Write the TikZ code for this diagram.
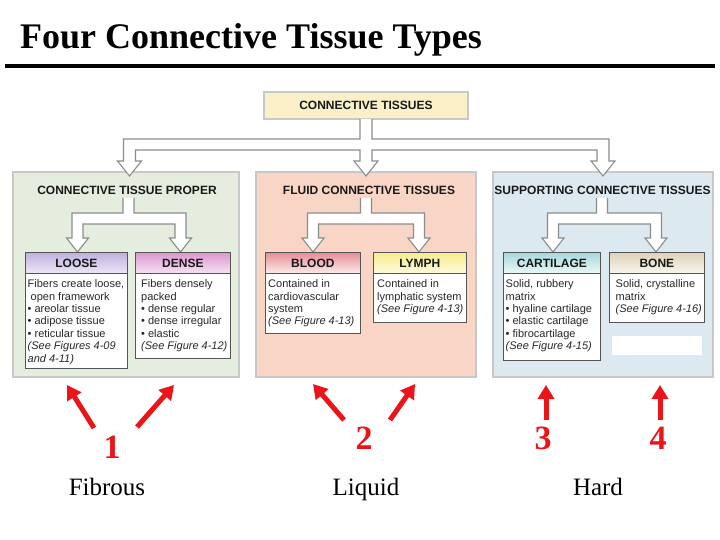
\documentclass[tikz,border=0pt]{standalone}
\usepackage{fontspec}
\setmainfont{Liberation Serif}
\newfontfamily\diasans{Liberation Sans}
\usetikzlibrary{arrows.meta}
\definecolor{greenp}{RGB}{228,237,222}
\definecolor{pinkp}{RGB}{249,213,197}
\definecolor{bluep}{RGB}{220,233,240}
\definecolor{topy}{RGB}{251,240,200}
\definecolor{panelgray}{RGB}{200,200,200}
\definecolor{boxgray}{RGB}{85,85,85}
\definecolor{arrowgray}{RGB}{140,140,140}
\definecolor{bodytext}{RGB}{40,40,40}
\definecolor{myred}{RGB}{235,20,25}
\definecolor{looseT}{RGB}{190,176,222}
\definecolor{looseB}{RGB}{236,231,246}
\definecolor{denseT}{RGB}{220,150,208}
\definecolor{denseB}{RGB}{246,226,242}
\definecolor{bloodT}{RGB}{230,140,148}
\definecolor{bloodB}{RGB}{252,236,236}
\definecolor{lymphT}{RGB}{246,236,140}
\definecolor{lymphB}{RGB}{253,250,222}
\definecolor{cartT}{RGB}{165,216,222}
\definecolor{cartB}{RGB}{236,248,248}
\definecolor{boneT}{RGB}{222,210,184}
\definecolor{boneB}{RGB}{249,246,238}
\newcommand\subfork[3]{%
  \draw[hollow] ({#1-5.5},198) -- ({#1-5.5},213) -- ({#2-5.5},213) -- ({#2-5.5},238)
    -- ({#2-11},238) -- (#2,252) -- ({#2+11},238) -- ({#2+5.5},238) -- ({#2+5.5},224)
    -- ({#3-5.5},224) -- ({#3-5.5},238) -- ({#3-11},238) -- (#3,252) -- ({#3+11},238)
    -- ({#3+5.5},238) -- ({#3+5.5},213) -- ({#1+5.5},213) -- ({#1+5.5},198);}
\begin{document}
\begin{tikzpicture}[x=1pt,y=-1pt,
  panel/.style={draw=panelgray, line width=1.2pt, anchor=north west, inner sep=0pt, outer sep=0pt},
  ptitle/.style={font=\diasans\bfseries\fontsize{12}{14}\selectfont, text=black!90, inner sep=1pt},
  subbox/.style={draw=boxgray, line width=0.8pt, fill=white, anchor=north west, inner sep=0pt},
  subhead/.style={draw=boxgray, line width=0.8pt, anchor=north, minimum height=21pt, inner sep=0pt,
    font=\diasans\bfseries\fontsize{12}{14}\selectfont, text=black!90},
  body/.style={anchor=north west, inner sep=0pt, align=left,
    font=\diasans\fontsize{11}{12.4}\selectfont, text=bodytext},
  hollow/.style={draw=arrowgray, line width=1.1pt, fill=white, line join=miter},
  redarr/.style={draw=myred, line width=5pt, -{Triangle[length=14pt,width=16pt]}},
  num/.style={font=\bfseries\fontsize{34}{34}\selectfont, text=myred, inner sep=0pt},
  lbl/.style={font=\fontsize{25}{25}\selectfont, anchor=base, inner sep=0pt}]
\useasboundingbox (0,0) rectangle (720,540);
\fill[white] (0,0) rectangle (720,540);
% title
\node[anchor=base west, inner sep=0pt, font=\bfseries\fontsize{36}{36}\selectfont] (title) at (20,49) {Four Connective Tissue Types};
\draw[line width=4pt] (5,66) -- (715,66);
% panels
\node[panel, fill=greenp, minimum width=226pt, minimum height=205pt] (p1) at (13,172) {};
\node[panel, fill=pinkp, minimum width=220pt, minimum height=205pt] (p2) at (256,172) {};
\node[panel, fill=bluep, minimum width=220pt, minimum height=205pt] (p3) at (493,172) {};
% top box
\node[draw=panelgray, line width=1.2pt, fill=topy, minimum width=204pt, minimum height=27pt, inner sep=0pt,
  font=\diasans\bfseries\fontsize{12}{14}\selectfont, text=black!90] (top) at (366,105.5) {CONNECTIVE TISSUES};
% main fork
\draw[hollow] (360,119) -- (360,139) -- (123.5,139) -- (123.5,161) -- (117.5,161) -- (129.5,176)
  -- (141.5,161) -- (135.5,161) -- (135.5,150) -- (360,150) -- (360,161) -- (354,161) -- (366,176)
  -- (378,161) -- (372,161) -- (372,150) -- (597,150) -- (597,161) -- (591,161) -- (603,176)
  -- (615,161) -- (609,161) -- (609,139) -- (372,139) -- (372,119);
% panel titles
\node[ptitle] (h1) at (127,190) {CONNECTIVE TISSUE PROPER};
\node[ptitle] (h2) at (369,190) {FLUID CONNECTIVE TISSUES};
\node[ptitle] (h3) at (602.5,190) {SUPPORTING CONNECTIVE TISSUES};
% sub forks
\subfork{128.5}{77.5}{180.5}
\subfork{366}{313}{419}
\subfork{602}{553}{656}
% LOOSE
\node[subbox, minimum width=102pt, minimum height=116pt] (loose) at (25,252) {};
\node[subhead, minimum width=102pt, top color=looseT, bottom color=looseB] (looseh) at (loose.north) {LOOSE};
\node[body] (looset) at ([xshift=2.5pt, yshift=-27.5pt]loose.north west)
  {Fibers create loose,\\\hspace{3pt}open framework\\• areolar tissue\\• adipose tissue\\• reticular tissue\\\textit{(See Figures 4-09}\\\textit{and 4-11)}};
% DENSE
\node[subbox, minimum width=95pt, minimum height=106pt] (dense) at (135,252) {};
\node[subhead, minimum width=95pt, top color=denseT, bottom color=denseB] (denseh) at (dense.north) {DENSE};
\node[body] (denset) at ([xshift=6pt, yshift=-27.5pt]dense.north west)
  {Fibers densely\\packed\\• dense regular\\• dense irregular\\• elastic\\\textit{(See Figure 4-12)}};
% BLOOD
\node[subbox, minimum width=95pt, minimum height=81pt] (blood) at (265,252) {};
\node[subhead, minimum width=95pt, top color=bloodT, bottom color=bloodB] (bloodh) at (blood.north) {BLOOD};
\node[body] (bloodt) at ([xshift=3pt, yshift=-27.5pt]blood.north west)
  {Contained in\\cardiovascular\\system\\\textit{(See Figure 4-13)}};
% LYMPH
\node[subbox, minimum width=93pt, minimum height=70pt] (lymph) at (373,252) {};
\node[subhead, minimum width=93pt, top color=lymphT, bottom color=lymphB] (lymphh) at (lymph.north) {LYMPH};
\node[body] (lympht) at ([xshift=4pt, yshift=-27.5pt]lymph.north west)
  {Contained in\\lymphatic system\\\textit{(See Figure 4-13)}};
% CARTILAGE
\node[subbox, minimum width=97pt, minimum height=108pt] (cart) at (503,252) {};
\node[subhead, minimum width=97pt, top color=cartT, bottom color=cartB] (carth) at (cart.north) {CARTILAGE};
\node[body] (cartt) at ([xshift=2.5pt, yshift=-27.5pt]cart.north west)
  {Solid, rubbery\\matrix\\• hyaline cartilage\\• elastic cartilage\\• fibrocartilage\\\textit{(See Figure 4-15)}};
% BONE
\node[subbox, minimum width=95pt, minimum height=70pt] (bone) at (609,252) {};
\node[subhead, minimum width=95pt, top color=boneT, bottom color=boneB] (boneh) at (bone.north) {BONE};
\node[body] (bonet) at ([xshift=6.5pt, yshift=-27.5pt]bone.north west)
  {Solid, crystalline\\matrix\\\textit{(See Figure 4-16)}};
% blank white patch
\node[fill=white, anchor=north west, minimum width=90pt, minimum height=19pt, inner sep=0pt] (blank) at (612,336) {};
% red numbers and arrows
\node[num] (n1) at (112,447) {1};
\node[num] (n2) at (364,438) {2};
\node[num] (n3) at (543,438) {3};
\node[num] (n4) at (658,438) {4};
\coordinate (a1) at (67,385);
\coordinate (b1) at (174,385);
\coordinate (a2) at (313,384);
\coordinate (b2) at (415,384);
\coordinate (a3) at (546,385);
\coordinate (a4) at (660,385);
\draw[redarr] (94,428) -- (a1);
\draw[redarr] (137,427) -- (b1);
\draw[redarr] (344,420) -- (a2);
\draw[redarr] (390,420) -- (b2);
\draw[redarr] (546,420) -- (a3);
\draw[redarr] (660,420) -- (a4);
% labels
\node[lbl] (f) at (107,495) {Fibrous};
\node[lbl] (l) at (366,495) {Liquid};
\node[lbl] (hd) at (598,495) {Hard};
\end{tikzpicture}
\end{document}
